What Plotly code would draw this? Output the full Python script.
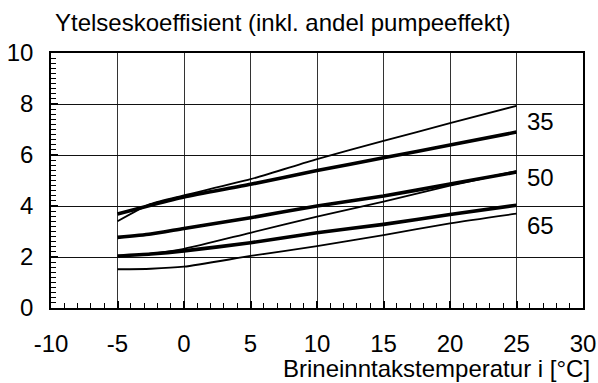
import plotly.graph_objects as go

# Data
temps = [-5, -2.5, 0, 5, 10, 15, 20, 25]
cop35_thick = [3.69, 4.03, 4.35, 4.85, 5.39, 5.89, 6.39, 6.90]
cop35_thin = [3.40, 4.08, 4.42, 5.05, 5.84, 6.55, 7.25, 7.93]
cop50_thick = [2.77, 2.90, 3.12, 3.54, 4.00, 4.39, 4.86, 5.33]
cop50_thin = [2.02, 2.13, 2.32, 2.95, 3.58, 4.17, 4.80, 5.37]
cop65_thick = [2.04, 2.12, 2.24, 2.56, 2.95, 3.28, 3.67, 4.03]
cop65_thin = [1.52, 1.54, 1.62, 2.04, 2.43, 2.86, 3.32, 3.70]

series_labels = ["35", "50", "65"]
label_y = [7.3, 5.1, 3.25]
x_ticks = [-10, -5, 0, 5, 10, 15, 20, 25, 30]
y_ticks = [0, 2, 4, 6, 8, 10]

FONT = "Liberation Sans, Arial, sans-serif"
FS = 24

fig = go.Figure()
for ys, w in [(cop35_thin, 1.8), (cop50_thin, 1.8), (cop65_thin, 1.8),
              (cop35_thick, 3.6), (cop50_thick, 3.6), (cop65_thick, 3.6)]:
    fig.add_trace(go.Scatter(x=temps, y=ys, mode="lines",
                             line=dict(color="black", width=w, shape="spline", smoothing=0.6),
                             showlegend=False, hoverinfo="skip"))

for lab, yv in zip(series_labels, label_y):
    fig.add_annotation(x=26.8, y=yv, text=lab, showarrow=False, xanchor="center",
                       yanchor="middle", font=dict(size=FS, color="black", family=FONT))

fig.add_annotation(xref="paper", yref="paper", x=(592 - 51) / 532, y=(308 - 368) / 255,
                   text="Brineinntakstemperatur i [°C]", showarrow=False,
                   xanchor="right", yanchor="middle",
                   font=dict(size=FS, color="black", family=FONT))

fig.update_layout(
    width=598, height=383,
    margin=dict(l=51, r=15, t=53, b=75, autoexpand=False),
    paper_bgcolor="white", plot_bgcolor="white",
    font=dict(family=FONT, size=FS, color="black"),
    title=dict(text="Ytelseskoeffisient (inkl. andel pumpeeffekt)", x=55 / 598, xanchor="left",
               y=1 - 23 / 383, yanchor="middle", xref="container", yref="container",
               automargin=False,
               font=dict(size=FS, color="black", family=FONT)),
)

fig.update_xaxes(range=[-10, 30], tickvals=x_ticks, ticktext=[str(v) for v in x_ticks],
                 automargin=False,
                 showgrid=True, gridcolor="#333", gridwidth=1,
                 showline=True, linecolor="black", linewidth=1.5, mirror=True,
                 ticks="inside", ticklen=7, tickcolor="black", tickwidth=1.5,
                 ticklabelstandoff=13, zeroline=False,
                 minor=dict(dtick=1, ticks="inside", ticklen=5, tickcolor="black",
                            tickwidth=1, showgrid=False),
                 tickfont=dict(size=FS, family=FONT, color="black"))
fig.update_yaxes(range=[0, 10], tickvals=y_ticks, ticktext=[str(v) for v in y_ticks],
                 automargin=False,
                 showgrid=True, gridcolor="#111", gridwidth=1,
                 showline=True, linecolor="black", linewidth=1.5, mirror=True,
                 ticks="inside", ticklen=7, tickcolor="black", tickwidth=1.5,
                 ticklabelstandoff=11, zeroline=False,
                 minor=dict(dtick=0.2, ticks="inside", ticklen=5, tickcolor="black",
                            tickwidth=1, showgrid=False),
                 tickfont=dict(size=FS, family=FONT, color="black"))

fig.write_html("out.html", config={"displayModeBar": False},
               post_script="document.body.style.margin='0';document.body.style.overflow='hidden';")
